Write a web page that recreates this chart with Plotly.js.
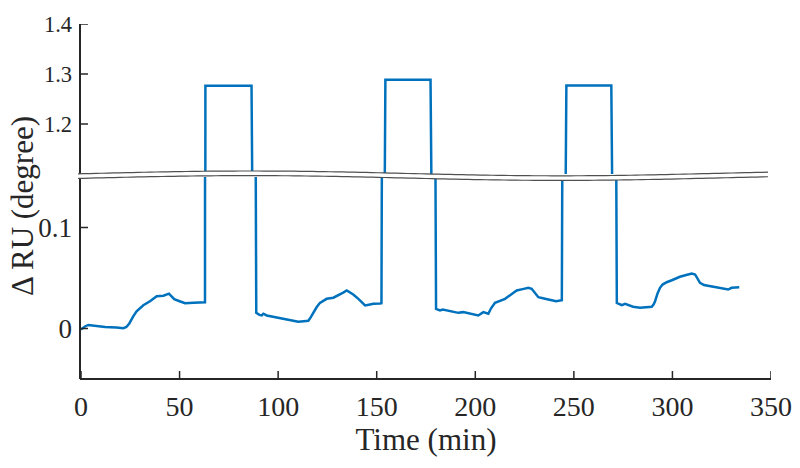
<!DOCTYPE html>
<html>
<head>
<meta charset="utf-8">
<script src="https://cdn.plot.ly/plotly-3.0.1.min.js"></script>
<style>
  html, body { margin: 0; padding: 0; background: #fff; }
  #chart { width: 800px; height: 468px; }
</style>
</head>
<body>
<div id="chart"></div>
<script>
/* Broken-axis time trace: same series drawn on an upper (pulse tops) and
   lower (baseline) y axis, with a wavy white band hiding the gap.
   Axis lines and tick marks are drawn as shapes so they always show. */
(function () {
  "use strict";

  // time (min) and signal (degree)
  var timeMin = [
    0, 2, 3.7, 8, 12.2, 18, 21.5, 23, 24.5, 26.5, 28.2, 31.6, 35, 38.4, 41.8, 44.6, 47.3, 50, 52.8, 57, 62.0, 62.9,
    63.1, 75, 86.5,
    88.9, 90.5, 91.7, 92.5, 94.2, 98, 102.6, 106, 110.2, 113, 115.3, 116.5, 117.8, 119.5, 121.2, 124.6, 128, 130.5,
    133, 134.8, 136.5, 138.1, 140.7, 142.5, 144.1, 146, 148.3, 151.7, 152.4,
    154.4, 166, 177.3,
    180.1, 182.1, 183.5, 186, 188.8, 191.4, 193.9, 197, 201.5, 204.1, 205, 206.6, 208, 210, 215.1, 218, 221, 224,
    226.9, 228.6, 230, 232, 235.4, 238.8, 241, 243.9,
    246.2, 258, 269.0,
    271.8, 274.3, 276, 280, 283.6, 289.5, 290.5, 291.2, 292.5, 293.7, 295, 297.1, 300, 303.8, 307, 309.8, 311.5,
    312.5, 314, 316, 319.1, 324.1, 328.3, 330, 333.9
  ];
  var deltaRU = [
    -0.001, 0.002, 0.0035, 0.0025, 0.0015, 0.001, 0.0003, 0.0015, 0.005, 0.012, 0.017, 0.023, 0.027, 0.032, 0.0325, 0.0345, 0.029, 0.027, 0.025, 0.0255, 0.0255, 0.026,
    1.2766, 1.2766, 1.2766,
    0.0155, 0.0135, 0.0129, 0.0146, 0.0129, 0.0115, 0.0096, 0.0085, 0.0066, 0.0072, 0.0076, 0.011, 0.0155, 0.021, 0.0254, 0.0294, 0.0305, 0.0327,
    0.0355, 0.0376, 0.036, 0.0337, 0.0294, 0.026, 0.0228, 0.0235, 0.0244, 0.0248, 0.025,
    1.2886, 1.2886, 1.2886,
    0.0195, 0.0178, 0.0188, 0.0178, 0.0171, 0.0155, 0.0162, 0.0148, 0.0129, 0.0162, 0.0158, 0.0146, 0.02, 0.0254, 0.0294, 0.033, 0.0376, 0.039,
    0.0403, 0.0393, 0.036, 0.031, 0.0294, 0.0277, 0.027, 0.028,
    1.2772, 1.2772, 1.2772,
    0.0254, 0.0231, 0.0244, 0.0215, 0.0205, 0.0215, 0.024, 0.027, 0.035, 0.0403, 0.0435, 0.0458, 0.048, 0.0512, 0.053, 0.0545, 0.0535,
    0.05, 0.0452, 0.043, 0.0419, 0.0396, 0.0386, 0.0403, 0.0409
  ];

  var xTicks = [0, 50, 100, 150, 200, 250, 300, 350];
  var lowTicks = [0, 0.1];
  var highTicks = [1.2, 1.3, 1.4];

  var blue = "#0072BD";
  var axisInk = "#262626";
  var serif = "Liberation Serif";

  // plot box in pixels (matches the 800x468 reference)
  var L = 81, R = 29, T = 24, B = 89;
  var plotW = 800 - L - R, plotH = 468 - T - B;
  var lowTop = (379 - 177) / plotH;
  var highBottom = (379 - 174) / plotH;

  // wavy break band, built in paper coordinates
  function waveY(px, off) {
    var py = 173.4 - 2.4 * Math.cos(2 * Math.PI * (px - 250) / 620) + off;
    return (379 - py) / plotH;
  }
  var topPts = [], botPts = [];
  for (var px = 78; px <= 773; px += 6) {
    var xp = (px - L) / plotW;
    topPts.push(xp.toFixed(4) + "," + waveY(px, 0).toFixed(4));
    botPts.push(xp.toFixed(4) + "," + waveY(px, 4.6).toFixed(4));
  }
  var bandPath = "M" + topPts.join(" L") + " L" + botPts.slice().reverse().join(" L") + " Z";

  var axisLine = { color: axisInk, width: 2 };
  var tickLine = { color: axisInk, width: 1.5 };
  var lineX = -1 / plotW;
  var shapes = [
    { type: "line", xref: "paper", yref: "paper", x0: lineX, x1: 1, y0: 0, y1: 0, line: axisLine },
    { type: "line", xref: "paper", yref: "paper", x0: lineX, x1: lineX, y0: 0, y1: lowTop, line: axisLine },
    { type: "line", xref: "paper", yref: "paper", x0: lineX, x1: lineX, y0: highBottom, y1: 1, line: axisLine }
  ];
  xTicks.forEach(function (t) {
    shapes.push({ type: "line", xref: "x", yref: "paper", x0: t, x1: t, y0: 0, y1: 8 / plotH, line: tickLine });
  });
  lowTicks.forEach(function (v) {
    shapes.push({ type: "line", xref: "paper", yref: "y", x0: lineX, x1: 7 / plotW, y0: v, y1: v, line: tickLine });
  });
  highTicks.forEach(function (v) {
    shapes.push({ type: "line", xref: "paper", yref: "y2", x0: lineX, x1: 7 / plotW, y0: v, y1: v, line: tickLine });
  });
  shapes.push(
    { type: "path", xref: "paper", yref: "paper", path: bandPath, fillcolor: "#fff", line: { width: 0 } },
    { type: "path", xref: "paper", yref: "paper", path: "M" + topPts.join(" L"), fillcolor: "rgba(0,0,0,0)", line: { color: "#505050", width: 1.2 } },
    { type: "path", xref: "paper", yref: "paper", path: "M" + botPts.join(" L"), fillcolor: "rgba(0,0,0,0)", line: { color: "#505050", width: 1.2 } }
  );
  shapes.forEach(function (s) { s.layer = "above"; });

  var common = { x: timeMin, y: deltaRU, type: "scatter", mode: "lines", line: { color: blue, width: 2.5 }, hoverinfo: "skip" };

  function axis(extra) {
    return Object.assign({ showline: false, ticks: "", showgrid: false, zeroline: false, fixedrange: true }, extra);
  }

  Plotly.newPlot("chart", [
    Object.assign({}, common, { yaxis: "y" }),
    Object.assign({}, common, { yaxis: "y2" })
  ], {
    width: 800, height: 468,
    margin: { l: L, r: R, t: T, b: B },
    font: { family: serif, color: axisInk },
    showlegend: false,
    xaxis: axis({
      range: [0, 350], tickvals: xTicks, ticklabelstandoff: 8,
      tickfont: { family: serif, size: 28, color: axisInk },
      title: { text: "Time (min)", font: { family: serif, size: 31, color: axisInk }, standoff: 6 }
    }),
    yaxis: axis({
      domain: [0, lowTop], range: [-0.05, 0.15], tickvals: lowTicks, ticktext: ["0", "0.1"], ticklabelstandoff: 8,
      tickfont: { family: serif, size: 27, color: axisInk }
    }),
    yaxis2: axis({
      domain: [highBottom, 1], range: [1.1, 1.4], tickvals: highTicks, anchor: "x", ticklabelstandoff: 8,
      tickfont: { family: serif, size: 22.5, color: axisInk }
    }),
    shapes: shapes,
    annotations: [{
      text: "\u0394 RU (degree)", xref: "paper", yref: "paper",
      x: (22 - L) / plotW, y: (379 - 206) / plotH, xanchor: "center", yanchor: "middle",
      textangle: -90, showarrow: false, font: { family: serif, size: 31, color: axisInk }
    }]
  }, { displayModeBar: false });
})();
</script>
</body>
</html>
